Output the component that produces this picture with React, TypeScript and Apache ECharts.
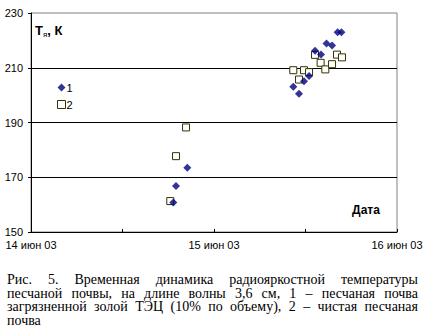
import React, { useEffect, useRef } from "react";
import * as echarts from "echarts";

// ---- data ----
const seriesNames = ["1", "2"];
// series 1: sandy soil contaminated with TPP ash (diamonds)
const times1 = [
  "2003-06-14T18:40", "2003-06-14T19:01", "2003-06-14T20:30",
  "2003-06-15T10:24", "2003-06-15T11:09", "2003-06-15T11:48",
  "2003-06-15T12:28", "2003-06-15T13:15", "2003-06-15T14:02",
  "2003-06-15T14:45", "2003-06-15T15:29", "2003-06-15T16:13",
  "2003-06-15T16:43",
];
const values1 = [160.8, 166.8, 173.5, 203.1, 200.5, 205.1, 207.0, 216.2, 214.8, 218.9, 218.1, 223.0, 223.0];
// series 2: clean sandy soil (squares)
const times2 = [
  "2003-06-14T18:16", "2003-06-14T19:01", "2003-06-14T20:20",
  "2003-06-15T10:24", "2003-06-15T11:09", "2003-06-15T11:48",
  "2003-06-15T12:28", "2003-06-15T13:15", "2003-06-15T13:59",
  "2003-06-15T14:36", "2003-06-15T15:29", "2003-06-15T16:08",
  "2003-06-15T16:47",
];
const values2 = [161.3, 177.7, 188.2, 209.1, 205.7, 209.1, 208.4, 214.7, 211.8, 209.4, 211.3, 214.8, 213.8];

const xStart = "2003-06-14T00:00";
const xEnd = "2003-06-16T00:00";
const xTickLabels = ["14 июн 03", "15 июн 03", "16 июн 03"];
const yMin = 150;
const yMax = 230;
const yStep = 20;

const captionLines = [
  "Рис. 5. Временная динамика радиояркостной температуры",
  "песчаной почвы, на длине волны 3,6 см, 1 – песчаная почва",
  "загрязненной золой ТЭЦ (10% по объему), 2 – чистая песчаная",
  "почва",
];

const toMs = (s: string) => Date.parse(s + ":00Z");
const HOUR = 3600 * 1000;
const DAY = 24 * HOUR;

const SANS = '"Liberation Sans", Arial, sans-serif';
const SERIF = '"Liberation Serif", "Times New Roman", serif';

function buildCaption() {
  const canvas = document.createElement("canvas");
  const ctx = canvas.getContext("2d") as CanvasRenderingContext2D;
  const fontSize = 14;
  ctx.font = `${fontSize}px "Liberation Serif"`;
  const left = 7;
  const right = 418;
  const lineYs = [279.5, 293, 306.5, 320];
  const els: any[] = [];
  captionLines.forEach((line, li) => {
    const words = line.split(" ");
    const widths = words.map((w) => ctx.measureText(w).width);
    const total = widths.reduce((a, b) => a + b, 0);
    const last = li === captionLines.length - 1;
    const gap = last || words.length < 2 ? ctx.measureText(" ").width : (right - left - total) / (words.length - 1);
    let x = left;
    words.forEach((w, i) => {
      els.push({
        type: "text",
        x,
        y: lineYs[li],
        silent: true,
        style: {
          text: w,
          fontSize,
          fontFamily: SERIF,
          fill: "#000",
          verticalAlign: "middle",
          align: "left",
        },
      });
      x += widths[i] + gap;
    });
  });
  return els;
}

export default function App() {
  const ref = useRef<HTMLDivElement>(null);
  useEffect(() => {
    document.body.style.margin = "0";
    const chart = echarts.init(ref.current as HTMLDivElement, null, { renderer: "svg", width: 428, height: 332 });
    const d1 = times1.map((t, i) => [toMs(t), values1[i]]);
    const d2 = times2.map((t, i) => [toMs(t), values2[i]]);
    const x0 = toMs(xStart);
    const option: any = {
      animation: false,
      backgroundColor: "#fff",
      grid: {
        left: 31,
        right: 31,
        top: 13,
        bottom: 100,
        containLabel: false,
        show: true,
        borderColor: "#808080",
        borderWidth: 1,
        backgroundColor: "transparent",
      },
      legend: {
        orient: "vertical",
        left: 57,
        top: 82,
        padding: 0,
        itemWidth: 8,
        itemHeight: 8,
        itemGap: 6,
        selectedMode: false,
        textStyle: { fontSize: 11, fontFamily: SANS, color: "#000", padding: [0, 0, 0, -4] },
        data: [
          { name: seriesNames[0], icon: "diamond", itemStyle: { color: "#000080" } },
          {
            name: seriesNames[1],
            icon: "rect",
            itemStyle: { color: "#fff", borderColor: "#333300", borderWidth: 1 },
          },
        ],
      },
      xAxis: {
        type: "value",
        min: x0,
        max: toMs(xEnd),
        interval: 12 * HOUR,
        axisLine: { show: true, lineStyle: { color: "#000", width: 1 } },
        axisTick: { show: true, inside: true, length: 3, lineStyle: { color: "#000" } },
        splitLine: { show: false },
        axisLabel: {
          show: true,
          margin: 7,
          fontSize: 11,
          fontFamily: SANS,
          color: "#000",
          showMinLabel: true,
          showMaxLabel: true,
          formatter: (v: number) => {
            const off = v - x0;
            if (off % DAY !== 0) return "";
            return xTickLabels[Math.round(off / DAY)] ?? "";
          },
        },
      },
      yAxis: {
        type: "value",
        min: yMin,
        max: yMax,
        interval: yStep,
        axisLine: { show: true, lineStyle: { color: "#000", width: 1 } },
        axisTick: { show: true, inside: false, length: 3, lineStyle: { color: "#000" } },
        splitLine: { show: true, showMinLine: false, showMaxLine: false, lineStyle: { color: "#000", width: 1 } },
        axisLabel: { margin: 8, fontSize: 11, fontFamily: SANS, color: "#000" },
      },
      series: [
        {
          name: seriesNames[0],
          type: "scatter",
          symbol: "diamond",
          symbolSize: 8,
          itemStyle: { color: "#000080" },
          data: d1,
          z: 3,
        },
        {
          name: seriesNames[1],
          type: "scatter",
          symbol: "rect",
          symbolSize: 7,
          itemStyle: { color: "#fff", borderColor: "#333300", borderWidth: 1, opacity: 1 },
          data: d2,
          z: 2,
        },
      ],
      graphic: [
        {
          type: "text",
          left: 35,
          top: 24,
          silent: true,
          style: {
            text: "{a|T}{b|я}{a|, К}",
            rich: {
              a: { fontSize: 13, fontWeight: "bold", fontFamily: SANS, fill: "#000", verticalAlign: "bottom" },
              b: { fontSize: 8, fontFamily: SANS, fill: "#000", verticalAlign: "bottom", padding: [0, 0, -1, 0] },
            },
          },
        },
        {
          type: "text",
          x: 366,
          y: 210,
          silent: true,
          style: {
            text: "Дата",
            fontSize: 12,
            fontWeight: "bold",
            fontFamily: SANS,
            fill: "#000",
            align: "center",
            verticalAlign: "middle",
          },
        },
        ...buildCaption(),
      ],
    };
    chart.setOption(option);
    return () => chart.dispose();
  }, []);
  return <div ref={ref} style={{ width: 428, height: 332 }} />;
}
